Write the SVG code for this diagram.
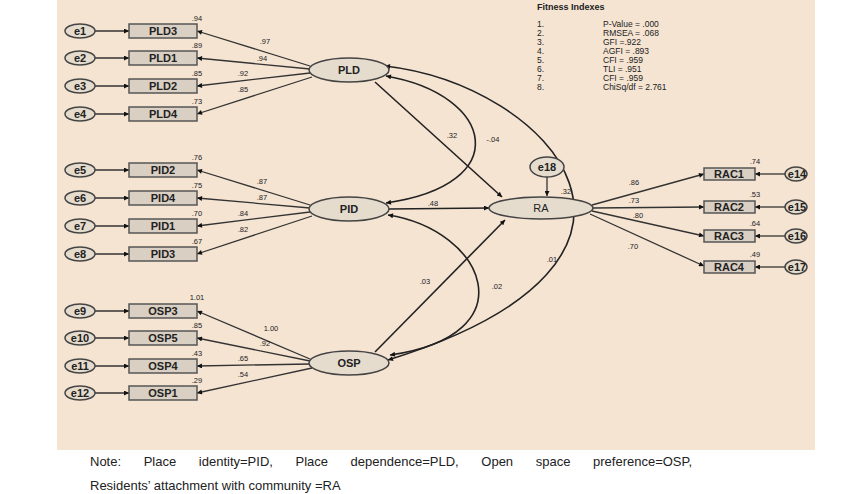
<svg xmlns="http://www.w3.org/2000/svg" width="850" height="494" viewBox="0 0 850 494">
<defs>
<marker id="a" viewBox="0 0 10 10" refX="10" refY="5" markerWidth="7" markerHeight="5" orient="auto-start-reverse" markerUnits="userSpaceOnUse"><path d="M0,0L10,5L0,10z" fill="#111"/></marker>
<style>
text{font-family:"Liberation Sans",Arial,sans-serif;fill:#222}
.b{fill:#d9cfc2;stroke:#555;stroke-width:1.5}
.e{fill:#e6dccd;stroke:#444;stroke-width:1.5}
.t{font-size:11px;font-weight:bold;text-anchor:middle}
.n{font-size:7.5px;text-anchor:middle;font-weight:normal}
.l{stroke:#333;stroke-width:1.3;fill:none}
.c{stroke:#222;stroke-width:1.6;fill:none}
.f{font-size:8.5px}
</style>
</defs>
<rect width="850" height="494" fill="#fff"/>
<rect x="57" y="0" width="758" height="450" fill="#f5e4d2"/>
<g id="connectors">
<g class="l" marker-end="url(#a)">
<line x1="95" y1="31" x2="129" y2="31"/><line x1="95" y1="58" x2="129" y2="58"/><line x1="95" y1="86" x2="129" y2="86"/><line x1="95" y1="114" x2="129" y2="114"/>
<line x1="95" y1="170" x2="129" y2="170"/><line x1="95" y1="198" x2="129" y2="198"/><line x1="95" y1="226" x2="129" y2="226"/><line x1="95" y1="254" x2="129" y2="254"/>
<line x1="95" y1="311" x2="129" y2="311"/><line x1="95" y1="338" x2="129" y2="338"/><line x1="95" y1="366" x2="129" y2="366"/><line x1="95" y1="393" x2="129" y2="393"/>
<line x1="310" y1="66" x2="197" y2="31"/><line x1="310" y1="69" x2="197" y2="58"/><line x1="310" y1="73" x2="197" y2="86"/><line x1="312" y1="77" x2="197" y2="114"/>
<line x1="310" y1="205" x2="197" y2="170"/><line x1="310" y1="208" x2="197" y2="198"/><line x1="310" y1="212" x2="197" y2="226"/><line x1="312" y1="216" x2="197" y2="254"/>
<line x1="310" y1="359" x2="197" y2="311"/><line x1="310" y1="361" x2="197" y2="338"/><line x1="310" y1="364" x2="197" y2="366"/><line x1="312" y1="368" x2="197" y2="393"/>
<line x1="592" y1="205" x2="704" y2="174"/><line x1="593" y1="208" x2="704" y2="207"/><line x1="592" y1="211" x2="704" y2="236"/><line x1="590" y1="214" x2="704" y2="266"/>
<line x1="785" y1="174" x2="755" y2="174"/><line x1="785" y1="207" x2="755" y2="207"/><line x1="785" y1="236" x2="755" y2="236"/><line x1="785" y1="267" x2="755" y2="267"/>
<line x1="547" y1="177" x2="547" y2="196"/>
</g>
<g class="c" marker-end="url(#a)">
<line x1="375" y1="82" x2="502" y2="197"/>
<line x1="389" y1="209" x2="489" y2="208"/>
<line x1="375" y1="352" x2="505" y2="220"/>
</g>
<g class="c" marker-start="url(#a)" marker-end="url(#a)">
<path d="M386,76 C495,95 515,185 386,203"/>
<path d="M388,215 C485,230 530,335 390,355"/>
<path d="M385,66 C550,85 710,260 388,360"/>
</g>
</g>
<g id="errors" class="t">
<g id="e1"><ellipse class="e" cx="80" cy="31" rx="15" ry="7"/><text x="80" y="35">e1</text></g>
<g id="e2"><ellipse class="e" cx="80" cy="58" rx="15" ry="7"/><text x="80" y="62">e2</text></g>
<g id="e3"><ellipse class="e" cx="80" cy="86" rx="15" ry="7"/><text x="80" y="90">e3</text></g>
<g id="e4"><ellipse class="e" cx="80" cy="114" rx="15" ry="7"/><text x="80" y="118">e4</text></g>
<g id="e5"><ellipse class="e" cx="80" cy="170" rx="15" ry="7"/><text x="80" y="174">e5</text></g>
<g id="e6"><ellipse class="e" cx="80" cy="198" rx="15" ry="7"/><text x="80" y="202">e6</text></g>
<g id="e7"><ellipse class="e" cx="80" cy="226" rx="15" ry="7"/><text x="80" y="230">e7</text></g>
<g id="e8"><ellipse class="e" cx="80" cy="254" rx="15" ry="7"/><text x="80" y="258">e8</text></g>
<g id="e9"><ellipse class="e" cx="80" cy="311" rx="15" ry="7"/><text x="80" y="315">e9</text></g>
<g id="e10"><ellipse class="e" cx="80" cy="338" rx="15" ry="7"/><text x="80" y="342">e10</text></g>
<g id="e11"><ellipse class="e" cx="80" cy="366" rx="15" ry="7"/><text x="80" y="370">e11</text></g>
<g id="e12"><ellipse class="e" cx="80" cy="393" rx="15" ry="7"/><text x="80" y="397">e12</text></g>
<g id="e14"><ellipse class="e" cx="796" cy="174" rx="11" ry="7"/><text x="797" y="178">e14</text></g>
<g id="e15"><ellipse class="e" cx="796" cy="207" rx="11" ry="7"/><text x="797" y="211">e15</text></g>
<g id="e16"><ellipse class="e" cx="796" cy="236" rx="11" ry="7"/><text x="797" y="240">e16</text></g>
<g id="e17"><ellipse class="e" cx="796" cy="267" rx="11" ry="7"/><text x="797" y="271">e17</text></g>
<g id="e18"><ellipse class="e" cx="547" cy="167" rx="17" ry="10"/><text x="547" y="171">e18</text></g>
</g>
<g id="indicators" class="t">
<g id="PLD3"><rect class="b" x="129" y="24" width="68" height="14"/><text x="163" y="35">PLD3</text><text class="n" x="197" y="21">.94</text></g>
<g id="PLD1"><rect class="b" x="129" y="51" width="68" height="14"/><text x="163" y="62">PLD1</text><text class="n" x="197" y="48">.89</text></g>
<g id="PLD2"><rect class="b" x="129" y="79" width="68" height="14"/><text x="163" y="90">PLD2</text><text class="n" x="197" y="76">.85</text></g>
<g id="PLD4"><rect class="b" x="129" y="107" width="68" height="14"/><text x="163" y="118">PLD4</text><text class="n" x="197" y="104">.73</text></g>
<g id="PID2"><rect class="b" x="129" y="163" width="68" height="14"/><text x="163" y="174">PID2</text><text class="n" x="197" y="160">.76</text></g>
<g id="PID4"><rect class="b" x="129" y="191" width="68" height="14"/><text x="163" y="202">PID4</text><text class="n" x="197" y="188">.75</text></g>
<g id="PID1"><rect class="b" x="129" y="219" width="68" height="14"/><text x="163" y="230">PID1</text><text class="n" x="197" y="216">.70</text></g>
<g id="PID3"><rect class="b" x="129" y="247" width="68" height="14"/><text x="163" y="258">PID3</text><text class="n" x="197" y="244">.67</text></g>
<g id="OSP3"><rect class="b" x="129" y="304" width="68" height="14"/><text x="163" y="315">OSP3</text><text class="n" x="197" y="300">1.01</text></g>
<g id="OSP5"><rect class="b" x="129" y="331" width="68" height="14"/><text x="163" y="342">OSP5</text><text class="n" x="197" y="328">.85</text></g>
<g id="OSP4"><rect class="b" x="129" y="359" width="68" height="14"/><text x="163" y="370">OSP4</text><text class="n" x="197" y="356">.43</text></g>
<g id="OSP1"><rect class="b" x="129" y="386" width="68" height="14"/><text x="163" y="397">OSP1</text><text class="n" x="197" y="383">.29</text></g>
<g id="RAC1"><rect class="b" x="704" y="168" width="51" height="12"/><text x="729" y="178">RAC1</text><text class="n" x="755" y="164">.74</text></g>
<g id="RAC2"><rect class="b" x="704" y="201" width="51" height="12"/><text x="729" y="211">RAC2</text><text class="n" x="755" y="197">.53</text></g>
<g id="RAC3"><rect class="b" x="704" y="230" width="51" height="12"/><text x="729" y="240">RAC3</text><text class="n" x="755" y="226">.64</text></g>
<g id="RAC4"><rect class="b" x="704" y="261" width="51" height="12"/><text x="729" y="271">RAC4</text><text class="n" x="755" y="257">.49</text></g>
</g>
<g id="latents" class="t">
<g id="PLD"><ellipse class="e" cx="349" cy="70" rx="40" ry="12"/><text x="349" y="74">PLD</text></g>
<g id="PID"><ellipse class="e" cx="349" cy="209" rx="40" ry="12"/><text x="349" y="213">PID</text></g>
<g id="OSP"><ellipse class="e" cx="349" cy="363" rx="40" ry="12"/><text x="349" y="367">OSP</text></g>
<g id="RA"><ellipse class="e" cx="541" cy="208" rx="52" ry="11"/><text x="541" y="212" style="font-weight:normal">RA</text><text class="n" x="566" y="194">.32</text></g>
</g>
<g id="labels" class="n">
<text x="265" y="44">.97</text><text x="262" y="61">.94</text><text x="243" y="76">.92</text><text x="243" y="92">.85</text>
<text x="262" y="184">.87</text><text x="262" y="200">.87</text><text x="243" y="216">.84</text><text x="243" y="232">.82</text>
<text x="271" y="331">1.00</text><text x="265" y="346">.92</text><text x="243" y="361">.65</text><text x="243" y="377">.54</text>
<text x="452" y="138">.32</text><text x="493" y="142">-.04</text><text x="433" y="206">.48</text>
<text x="425" y="284">.03</text><text x="497" y="289">.02</text><text x="552" y="262">.01</text>
<text x="634" y="185">.86</text><text x="634" y="203">.73</text><text x="638" y="218">.80</text><text x="633" y="249">.70</text>
</g>
<g id="fitness" class="f">
<text x="537" y="10" style="font-weight:bold;font-size:9px">Fitness Indexes</text>
<text>
<tspan x="537" y="27">1.</tspan><tspan x="537" y="36">2.</tspan><tspan x="537" y="45">3.</tspan><tspan x="537" y="54">4.</tspan><tspan x="537" y="63">5.</tspan><tspan x="537" y="72">6.</tspan><tspan x="537" y="81">7.</tspan><tspan x="537" y="90">8.</tspan></text>
<text>
<tspan x="603" y="27">P-Value = .000</tspan><tspan x="603" y="36">RMSEA = .068</tspan><tspan x="603" y="45">GFI =.922</tspan><tspan x="603" y="54">AGFI = .893</tspan><tspan x="603" y="63">CFI = .959</tspan><tspan x="603" y="72">TLI = .951</tspan><tspan x="603" y="81">CFI = .959</tspan><tspan x="603" y="90">ChiSq/df = 2.761</tspan></text>
</g>
<g id="note" style="font-size:13px">
<text x="90" y="466" style="word-spacing:19px">Note: Place identity=PID, Place dependence=PLD, Open space preference=OSP,</text>
<text x="90" y="490">Residents’ attachment with community =RA</text>
</g>
</svg>
